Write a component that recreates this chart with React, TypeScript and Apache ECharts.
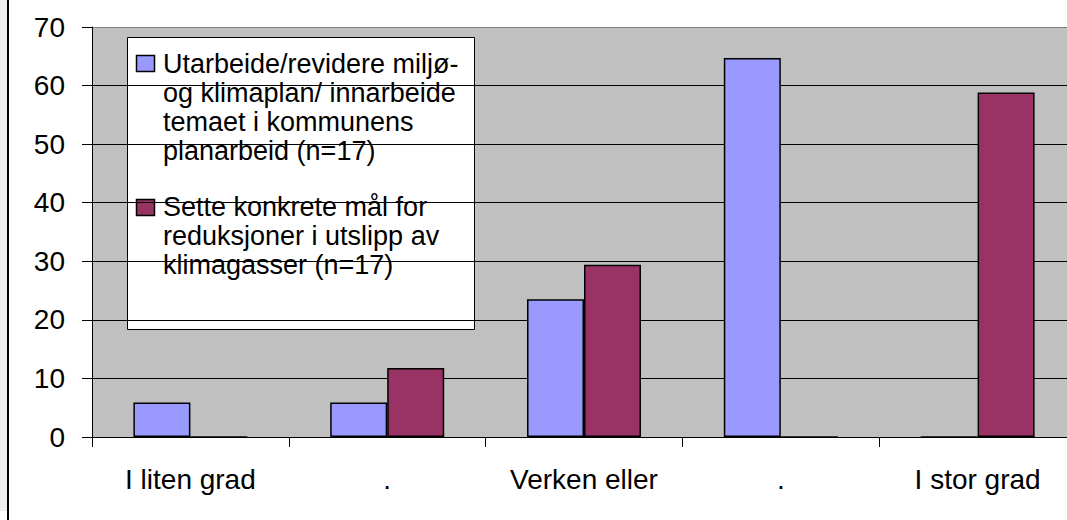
import React, { useEffect, useRef } from 'react';
import * as echarts from 'echarts';

const categories = ['I liten grad', '.', 'Verken eller', '.', 'I stor grad'];
const seriesNames = [
  'Utarbeide/revidere miljø- og klimaplan/ innarbeide temaet i kommunens planarbeid (n=17)',
  'Sette konkrete mål for reduksjoner i utslipp av klimagasser (n=17)',
];
const legendLines = [
  ['Utarbeide/revidere miljø-', 'og klimaplan/ innarbeide', 'temaet i kommunens', 'planarbeid (n=17)'],
  ['Sette konkrete mål for', 'reduksjoner i utslipp av', 'klimagasser (n=17)'],
];
const planValues = [5.88, 5.88, 23.53, 64.71, 0];
const targetValues = [0, 11.76, 29.41, 0, 58.82];
const yMin = 0;
const yMax = 70;
const yInterval = 10;
const colors = ['#9999FF', '#993366'];

const FONT = 'Liberation Sans, Arial, sans-serif';

export default function App() {
  const ref = useRef<HTMLDivElement>(null);
  useEffect(() => {
    if (!ref.current) return;
    const chart = echarts.init(ref.current, undefined, { renderer: 'svg' });
    const gridLineColors = ['#000', '#000', '#000', '#000', '#000', '#000', '#000', '#808080'];
    const legendTops = [49, 192];
    const markerTops = [55, 199];
    const option: any = {
      animation: false,
      backgroundColor: '#ffffff',
      grid: {
        left: 92,
        top: 27,
        width: 984,
        height: 410,
        show: true,
        backgroundColor: '#C0C0C0',
        borderWidth: 0,
      },
      xAxis: {
        type: 'category',
        data: categories,
        axisLine: { lineStyle: { color: '#000', width: 1 } },
        axisTick: { show: true, length: 10, lineStyle: { color: '#000' } },
        axisLabel: { fontFamily: FONT, fontSize: 28, color: '#000', margin: 28, interval: 0 },
        splitLine: { show: false },
      },
      yAxis: {
        type: 'value',
        min: yMin,
        max: yMax,
        interval: yInterval,
        axisLine: { show: true, lineStyle: { color: '#000', width: 1 } },
        axisTick: { show: true, length: 10, lineStyle: { color: '#000' } },
        axisLabel: { fontFamily: FONT, fontSize: 28, color: '#000', margin: 27 },
        splitLine: { show: true, lineStyle: { color: gridLineColors, width: 1 } },
      },
      series: [
        {
          name: seriesNames[0],
          type: 'bar',
          data: planValues,
          barWidth: 57,
          barGap: '0%',
          itemStyle: { color: colors[0], borderColor: '#000', borderWidth: 1.5 },
        },
        {
          name: seriesNames[1],
          type: 'bar',
          data: targetValues,
          barWidth: 57,
          barGap: '0%',
          itemStyle: { color: colors[1], borderColor: '#000', borderWidth: 1.5 },
        },
      ],
      graphic: [
        { type: 'rect', shape: { x: 0, y: 0, width: 7, height: 511 }, style: { fill: '#EEEEEE' }, silent: true },
        { type: 'rect', shape: { x: 7, y: 0, width: 2, height: 520 }, style: { fill: '#000' }, silent: true },
        {
          type: 'rect',
          shape: { x: 127.5, y: 37.5, width: 347, height: 292 },
          style: { fill: '#fff', stroke: '#000', lineWidth: 1 },
          silent: true,
        },
        ...legendLines.flatMap((lines, i) => [
          {
            type: 'rect',
            shape: { x: 136.5, y: markerTops[i] + 0.5, width: 18, height: 16 },
            style: { fill: colors[i], stroke: '#000', lineWidth: 1.5 },
            silent: true,
          },
          {
            type: 'text',
            x: 163,
            y: legendTops[i],
            style: {
              text: lines.join('\n'),
              fontFamily: FONT,
              fontSize: 27,
              lineHeight: 29,
              fill: '#000',
              verticalAlign: 'top',
              align: 'left',
            },
            silent: true,
          },
        ]),
      ],
    };
    chart.setOption(option);
    return () => chart.dispose();
  }, []);
  return (
    <div style={{ position: 'fixed', left: 0, top: 0, width: 1067, height: 520, overflow: 'hidden' }}>
      <div ref={ref} style={{ width: 1085, height: 520 }} />
    </div>
  );
}
